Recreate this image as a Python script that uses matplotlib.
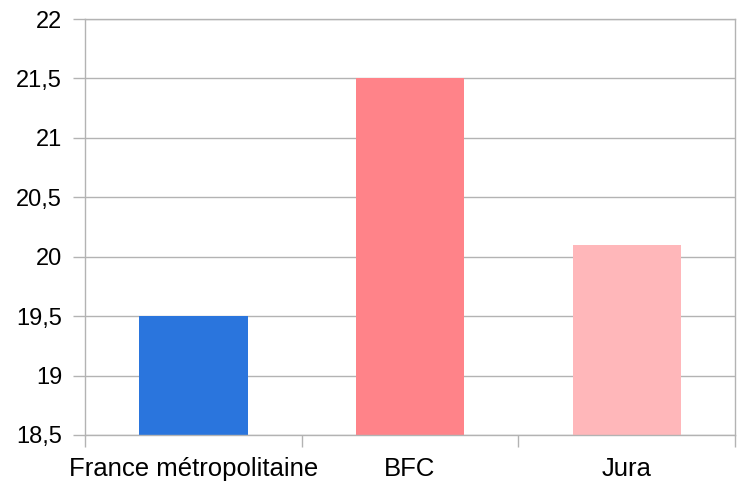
import matplotlib.pyplot as plt
from matplotlib.ticker import FuncFormatter, FixedLocator

categories = ["France métropolitaine", "BFC", "Jura"]
values = [19.5, 21.5, 20.1]
colors = ["#2a75dd", "#ff8389", "#ffb7ba"]
y_ticks = [18.5, 19, 19.5, 20, 20.5, 21, 21.5, 22]

plt.rcParams["font.family"] = ["Liberation Sans", "DejaVu Sans"]

fig = plt.figure(figsize=(7.41, 4.83), dpi=100)
ax = fig.add_axes([85 / 741, 48 / 483, 650 / 741, 416 / 483])

pos = list(range(len(categories)))
ax.bar(pos, [v - 18.5 for v in values], bottom=18.5, width=0.5, color=colors, zorder=2)

ax.set_xlim(-0.5, len(categories) - 0.5)
ax.set_ylim(18.5, 22)

grid_col = "#b3b3b3"
ax.set_yticks(y_ticks)
ax.yaxis.set_major_formatter(FuncFormatter(lambda v, p: ("%g" % v).replace(".", ",")))
ax.yaxis.grid(True, color=grid_col, linewidth=1, zorder=0)
ax.tick_params(axis="y", length=8.5, width=1, color=grid_col, pad=8, labelsize=17)

ax.xaxis.set_major_locator(FixedLocator([p - 0.5 for p in pos] + [len(pos) - 0.5]))
ax.xaxis.set_major_formatter(FuncFormatter(lambda v, p: ""))
ax.xaxis.set_minor_locator(FixedLocator(pos))
ax.set_xticklabels(categories, minor=True)
ax.tick_params(axis="x", which="major", length=8.5, width=1, color=grid_col)
ax.tick_params(axis="x", which="minor", length=0, pad=16, labelsize=18.5)

for s in ax.spines.values():
    s.set_color(grid_col)
    s.set_linewidth(1)

fig.savefig("out.png", dpi=100)
